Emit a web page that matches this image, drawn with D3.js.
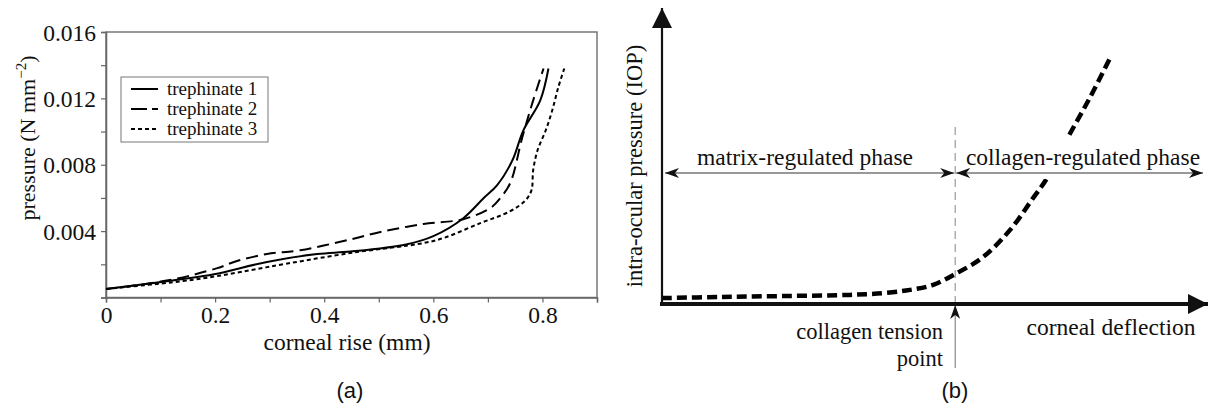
<!DOCTYPE html>
<html>
<head>
<meta charset="utf-8">
<script src="https://cdn.jsdelivr.net/npm/d3@7"></script>
<style>
  body { margin: 0; background: #fff; }
  svg text { font-family: "Liberation Serif", "Times New Roman", serif; fill: #111; }
  .panelTag { font-family: "Liberation Sans", Arial, sans-serif; }
</style>
</head>
<body>
<svg id="chart" width="1210" height="412"></svg>
<script>
// panel (a) data: corneal rise (mm) vs pressure (N mm^-2)
var trephinate1 = [[0,0.00051],[0.141,0.00111],[0.198,0.0014],[0.295,0.00214],[0.387,0.00262],[0.448,0.00277],
  [0.55,0.0032],[0.60,0.0037],[0.655,0.00478],[0.692,0.00598],[0.717,0.00677],[0.745,0.00827],
  [0.765,0.01007],[0.796,0.01188],[0.811,0.0138]];
var trephinate2 = [[0,0.00051],[0.117,0.00105],[0.204,0.00177],[0.24,0.0022],[0.295,0.00262],[0.356,0.00285],
  [0.448,0.0035],[0.503,0.00395],[0.582,0.00443],[0.655,0.00472],[0.705,0.0054],[0.723,0.006],
  [0.741,0.0069],[0.763,0.00965],[0.783,0.01188],[0.802,0.0138]];
var trephinate3 = [[0,0.00051],[0.141,0.00099],[0.204,0.00129],[0.295,0.00183],[0.448,0.00268],[0.582,0.00328],
  [0.62,0.0036],[0.686,0.00448],[0.741,0.0052],[0.769,0.00586],[0.780,0.00647],[0.783,0.00767],
  [0.791,0.00887],[0.806,0.01007],[0.818,0.01128],[0.829,0.01266],[0.840,0.0138]];
var seriesNames = ["trephinate 1", "trephinate 2", "trephinate 3"];
var xTicks = [0, 0.2, 0.4, 0.6, 0.8];
var yTicks = [0.004, 0.008, 0.012, 0.016];

// panel (b) schematic curve, arbitrary units (deflection, IOP)
var iopCurve = [[0,0.020],[0.108,0.024],[0.225,0.027],[0.349,0.031],[0.411,0.037],[0.461,0.048],[0.504,0.065],
  [0.545,0.102],[0.597,0.160],[0.647,0.252],[0.690,0.361],[0.716,0.429],[0.755,0.568],[0.796,0.704],[0.833,0.837]];
var tensionPoint = 0.545;

var svg = d3.select("#chart");
var fs = 23.5;

/* ---------- panel (a) ---------- */
var x = d3.scaleLinear().domain([0, 0.9]).range([106, 597]);
var y = d3.scaleLinear().domain([0, 0.016]).range([297.5, 32]);

var pa = svg.append("g").attr("class", "panelA");

pa.append("rect").attr("x", 106).attr("y", 32).attr("width", 491).attr("height", 265.5)
  .attr("fill", "none").attr("stroke", "#777").attr("stroke-width", 1.5);

var xAxis = pa.append("g").attr("transform", "translate(0,297.5)")
  .call(d3.axisBottom(x).tickValues(d3.range(0, 0.91, 0.1)).tickSize(5)
    .tickFormat(function(d){ return xTicks.some(function(t){ return Math.abs(t-d) < 1e-9; }) ? d3.format("")(+d.toFixed(1)) : ""; }));
xAxis.select(".domain").attr("stroke", "#666").attr("stroke-width", 1.5);
xAxis.selectAll(".tick line").attr("stroke", "#666").attr("stroke-width", 1.2);
xAxis.selectAll(".tick text").attr("font-size", fs).attr("dy", 0).attr("y", 25)
  .style("font-family", "Liberation Serif").attr("fill", "#111");

var yAxis = pa.append("g").attr("transform", "translate(106,0)")
  .call(d3.axisLeft(y).tickValues(d3.range(0, 0.0161, 0.002)).tickSize(5)
    .tickFormat(function(d){ return yTicks.some(function(t){ return Math.abs(t-d) < 1e-9; }) ? d.toFixed(3) : ""; }));
yAxis.select(".domain").attr("stroke", "#666").attr("stroke-width", 1.5);
yAxis.selectAll(".tick line").attr("stroke", "#666").attr("stroke-width", 1.2);
yAxis.selectAll(".tick text").attr("font-size", fs).attr("x", -10).attr("dy", "0.35em")
  .style("font-family", "Liberation Serif").attr("fill", "#111");

var dashes = [null, "12,6", "4,3"];
[trephinate1, trephinate2, trephinate3].forEach(function(s, i){
  pa.append("path").datum(s).attr("d", d3.line().x(function(d){ return x(d[0]); }).y(function(d){ return y(d[1]); }).curve(d3.curveCatmullRom))
    .attr("fill", "none").attr("stroke", "#000").attr("stroke-width", 2)
    .attr("stroke-dasharray", dashes[i]);
});

// legend
var lg = pa.append("g").attr("transform", "translate(121,77)");
lg.append("rect").attr("width", 147).attr("height", 65).attr("fill", "#fff").attr("stroke", "#777").attr("stroke-width", 1);
seriesNames.forEach(function(n, i){
  var yy = 12 + i * 20;
  lg.append("line").attr("x1", 10).attr("x2", 37).attr("y1", yy).attr("y2", yy)
    .attr("stroke", "#000").attr("stroke-width", 2).attr("stroke-dasharray", i == 1 ? "16,5,7,0" : dashes[i]);
  lg.append("text").attr("x", 46).attr("y", yy + 6).attr("font-size", 19).text(n);
});

pa.append("text").attr("x", 347).attr("y", 350).attr("text-anchor", "middle").attr("font-size", fs).text("corneal rise (mm)");
var yl = pa.append("text").attr("transform", "translate(35,138) rotate(-90)").attr("text-anchor", "middle").attr("font-size", 22);
yl.append("tspan").text("pressure (N mm");
yl.append("tspan").attr("dy", -9).attr("font-size", 15).text("\u22122");
yl.append("tspan").attr("dy", 9).text(")");

svg.append("text").attr("class", "panelTag").attr("x", 350).attr("y", 398).attr("text-anchor", "middle")
  .attr("font-size", 22).text("(a)");

/* ---------- panel (b) ---------- */
var bx = d3.scaleLinear().domain([0, 1]).range([662, 1200]);
var by = d3.scaleLinear().domain([0, 1]).range([304, 10]);
var pb = svg.append("g").attr("class", "panelB");

var defs = svg.append("defs");
defs.append("marker").attr("id", "stealth").attr("viewBox", "0 0 14 10").attr("refX", 14).attr("refY", 5)
  .attr("markerWidth", 14).attr("markerHeight", 10).attr("markerUnits", "userSpaceOnUse").attr("orient", "auto-start-reverse")
  .append("path").attr("d", "M0,0 L14,5 L0,10 L4,5 Z").attr("fill", "#111");
defs.append("marker").attr("id", "bigArrow").attr("viewBox", "0 0 20 20").attr("refX", 20).attr("refY", 10)
  .attr("markerWidth", 20).attr("markerHeight", 20).attr("markerUnits", "userSpaceOnUse").attr("orient", "auto")
  .append("path").attr("d", "M0,0 L20,10 L0,20 Z").attr("fill", "#111");

// curve
pb.append("path").datum(iopCurve)
  .attr("d", d3.line().x(function(d){ return bx(d[0]); }).y(function(d){ return by(d[1]); }).curve(d3.curveCatmullRom))
  .attr("fill", "none").attr("stroke", "#000").attr("stroke-width", 4.5).attr("stroke-dasharray", "10,5");

// white band behind the phase labels
pb.append("rect").attr("x", 958).attr("y", 137).attr("width", 245).attr("height", 42).attr("fill", "#fff");

var tx = bx(tensionPoint);
pb.append("line").attr("x1", tx).attr("x2", tx).attr("y1", 127).attr("y2", 302)
  .attr("stroke", "#999").attr("stroke-width", 1.2).attr("stroke-dasharray", "8,5");
pb.append("line").attr("x1", tx).attr("x2", tx).attr("y1", 368).attr("y2", 305)
  .attr("stroke", "#888").attr("stroke-width", 1.2).attr("marker-end", "url(#stealth)");

// axes
pb.append("line").attr("x1", 662).attr("x2", 662).attr("y1", 306).attr("y2", 8)
  .attr("stroke", "#111").attr("stroke-width", 2.2).attr("marker-end", "url(#bigArrow)");
pb.append("line").attr("x1", 660).attr("x2", 1208).attr("y1", 304).attr("y2", 304)
  .attr("stroke", "#111").attr("stroke-width", 4).attr("marker-end", "url(#bigArrow)");

// phase arrows
pb.append("line").attr("x1", tx - 1).attr("x2", 665).attr("y1", 173).attr("y2", 173)
  .attr("stroke", "#333").attr("stroke-width", 1.2).attr("marker-start", "url(#stealth)").attr("marker-end", "url(#stealth)");
pb.append("line").attr("x1", tx + 1).attr("x2", 1203).attr("y1", 173).attr("y2", 173)
  .attr("stroke", "#333").attr("stroke-width", 1.2).attr("marker-start", "url(#stealth)").attr("marker-end", "url(#stealth)");

pb.append("text").attr("x", 805).attr("y", 165).attr("text-anchor", "middle").attr("font-size", fs).text("matrix-regulated phase");
pb.append("text").attr("x", 1083).attr("y", 165).attr("text-anchor", "middle").attr("font-size", fs).text("collagen-regulated phase");
var tp = pb.append("text").attr("text-anchor", "end").attr("font-size", 22.5);
tp.append("tspan").attr("x", 943).attr("y", 339).text("collagen tension");
tp.append("tspan").attr("x", 943).attr("y", 366).text("point");
pb.append("text").attr("x", 1111).attr("y", 335).attr("text-anchor", "middle").attr("font-size", fs).text("corneal deflection");
pb.append("text").attr("transform", "translate(642,166) rotate(-90)").attr("text-anchor", "middle").attr("font-size", 22.5)
  .text("intra-ocular pressure (IOP)");

svg.append("text").attr("class", "panelTag").attr("x", 955).attr("y", 398).attr("text-anchor", "middle")
  .attr("font-size", 22).text("(b)");
</script>
</body>
</html>
